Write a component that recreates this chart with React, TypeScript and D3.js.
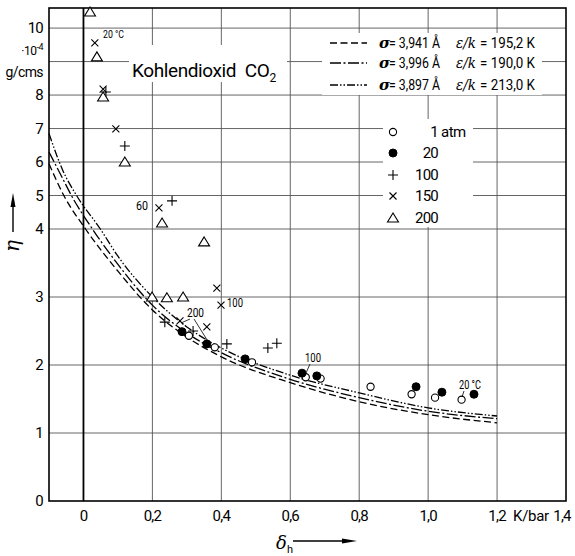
import React from "react";
import * as d3 from "d3";

// ---------- data ----------
const xTicks = [0, 0.2, 0.4, 0.6, 0.8, 1.0, 1.2];
const xTickLabels = ["0", "0,2", "0,4", "0,6", "0,8", "1,0", "1,2"];
const yTicks = [0, 1, 2, 3, 4, 5, 6, 7, 8, 10];
const yGrid = [1, 2, 3, 4, 5, 6, 7, 8, 9, 10];

// theory curves (delta_h, eta)
const curveA_213 = [
  [-0.1, 6.85], [-0.06, 5.75], [-0.02, 5.0], [0.049, 4.0], [0.1, 3.6], [0.2, 3.0],
  [0.3, 2.56], [0.4, 2.25], [0.6, 1.85], [0.8, 1.59], [1.0, 1.37], [1.2, 1.25],
];
const curveB_190 = [
  [-0.1, 6.3], [-0.06, 5.5], [-0.035, 5.0], [0.026, 4.0], [0.1, 3.48], [0.2, 2.88],
  [0.3, 2.47], [0.4, 2.18], [0.6, 1.79], [0.8, 1.52], [1.0, 1.32], [1.2, 1.21],
];
const curveC_195 = [
  [-0.1, 5.95], [-0.057, 5.0], [0.006, 4.0], [0.1, 3.38], [0.2, 2.81],
  [0.3, 2.41], [0.4, 2.12], [0.6, 1.74], [0.8, 1.46], [1.0, 1.27], [1.2, 1.15],
];

// measurements
const p1atm = [
  [0.306, 2.43], [0.381, 2.26], [0.489, 2.04], [0.645, 1.82], [0.688, 1.8],
  [0.833, 1.68], [0.952, 1.57], [1.02, 1.52], [1.097, 1.49],
];
const p20atm = [
  [0.286, 2.49], [0.358, 2.31], [0.469, 2.09], [0.634, 1.88], [0.677, 1.84],
  [0.965, 1.68], [1.04, 1.6], [1.133, 1.57],
];
const p100atm = [
  [0.065, 8.09], [0.12, 6.48], [0.257, 4.84], [0.236, 2.63], [0.318, 2.5],
  [0.416, 2.31], [0.535, 2.25], [0.561, 2.32],
];
const p150atm = [
  [0.033, 9.56], [0.057, 8.18], [0.094, 6.99], [0.219, 4.63], [0.387, 3.13],
  [0.399, 2.88], [0.358, 2.56], [0.28, 2.65],
];
const p200atm = [
  [0.019, 10.48], [0.039, 9.14], [0.057, 7.94], [0.12, 6.0], [0.228, 4.18],
  [0.35, 3.81], [0.199, 3.0], [0.242, 2.99], [0.289, 3.0],
];

const curveLegend = [
  { sigma: "3,941", eps: "195,2", dash: "7,3.5" },
  { sigma: "3,996", eps: "190,0", dash: "11,2.5,2,2.5" },
  { sigma: "3,897", eps: "213,0", dash: "8,2,1.5,2,1.5,2" },
];
const markerLegend = ["1", "20", "100", "150", "200"];

// ---------- layout ----------
const W = 575, H = 556;
const X = d3.scaleLinear().domain([-0.1, 1.4]).range([49, 566]);
const Y = d3.scaleLinear().domain([0, 4, 10.6]).range([501, 229, 8]);

const FONT = "Roboto, 'Liberation Sans', sans-serif";
const SERIF = "'DejaVu Serif', 'Liberation Serif', serif";

const line = d3.line<number[]>().x(d => X(d[0])).y(d => Y(d[1])).curve(d3.curveMonotoneX);

function Marker({ kind, cx, cy }: { kind: string; cx: number; cy: number }) {
  const s = { stroke: "#000", strokeWidth: 1.1 };
  if (kind === "open") return <circle cx={cx} cy={cy} r={3.6} fill="#fff" {...s} />;
  if (kind === "filled") return <circle cx={cx} cy={cy} r={4} fill="#000" stroke="#000" />;
  if (kind === "plus")
    return <path d={`M${cx - 5},${cy}H${cx + 5}M${cx},${cy - 5}V${cy + 5}`} fill="none" {...s} />;
  if (kind === "cross")
    return <path d={`M${cx - 3.5},${cy - 3.5}L${cx + 3.5},${cy + 3.5}M${cx - 3.5},${cy + 3.5}L${cx + 3.5},${cy - 3.5}`} fill="none" {...s} />;
  return <path d={`M${cx},${cy - 5}L${cx + 5.5},${cy + 4}L${cx - 5.5},${cy + 4}Z`} fill="#fff" {...s} />;
}

const sets: [number[][], string][] = [
  [p1atm, "open"], [p20atm, "filled"], [p100atm, "plus"], [p150atm, "cross"], [p200atm, "tri"],
];
const legendKinds = ["open", "filled", "plus", "cross", "tri"];

export default function App() {
  const x0 = X(-0.1), x1 = X(1.4), y0 = Y(0), y1 = Y(10.6);
  return (
    <svg width={W} height={H} style={{ position: "absolute", left: 0, top: 0, background: "#fff" }}
      fontFamily={FONT}>
      <rect x={0} y={0} width={W} height={H} fill="#fff" />
      {/* grid */}
      <g stroke="#555" strokeWidth={0.9}>
        {yGrid.map(v => <line key={"h" + v} x1={x0} x2={x1} y1={Y(v)} y2={Y(v)} />)}
        {xTicks.filter(v => v > 0).map(v => <line key={"v" + v} x1={X(v)} x2={X(v)} y1={y1} y2={y0} />)}
      </g>
      <line x1={X(0)} x2={X(0)} y1={y1} y2={y0} stroke="#000" strokeWidth={1.8} />

      {/* white boxes */}
      <rect x={129} y={45} width={158} height={37} fill="#fff" />
      <rect x={322} y={33} width={220} height={62} fill="#fff" />
      <rect x={383} y={119} width={90} height={108} fill="#fff" />

      {/* frame */}
      <rect x={x0} y={y1} width={x1 - x0} height={y0 - y1} fill="none" stroke="#000" strokeWidth={1.6} />

      {/* theory curves */}
      <g fill="none" stroke="#000" strokeWidth={1.3}>
        <path d={line(curveA_213) || ""} strokeDasharray={curveLegend[2].dash} />
        <path d={line(curveB_190) || ""} strokeDasharray={curveLegend[1].dash} />
        <path d={line(curveC_195) || ""} strokeDasharray={curveLegend[0].dash} />
      </g>

      {/* measurements */}
      {sets.map(([pts, kind]) =>
        pts.map((p, i) => <Marker key={kind + i} kind={kind} cx={X(p[0])} cy={Y(p[1])} />)
      )}

      {/* annotations */}
      <g fontSize={10} fill="#000">
        <text x={103} y={38} textLength={21} lengthAdjust="spacingAndGlyphs">20 °C</text>
        <text x={136} y={210} fontSize={12} textLength={12} lengthAdjust="spacingAndGlyphs">60</text>
        <text x={187} y={317} fontSize={12} textLength={17} lengthAdjust="spacingAndGlyphs">200</text>
        <text x={227} y={307} fontSize={12} textLength={16} lengthAdjust="spacingAndGlyphs">100</text>
        <text x={305} y={362} fontSize={12} textLength={16} lengthAdjust="spacingAndGlyphs">100</text>
        <text x={459} y={389} fontSize={12} textLength={22} lengthAdjust="spacingAndGlyphs">20 °C</text>
      </g>
      <g stroke="#000" strokeWidth={0.8} fill="none">
        <path d="M190,319L181,323M194,319L209,343" />
        <path d="M310,364L306,373" />
        <path d="M464,391L462,397" />
      </g>

      {/* title */}
      <text x={132} y={77} fontSize={19} fill="#000" letterSpacing={-0.4}>
        Kohlendioxid{"\u00a0\u00a0"}CO<tspan fontSize={12} dy={5}>2</tspan>
      </text>

      {/* curve legend */}
      {curveLegend.map((c, i) => {
        const yy = [43, 63, 85][i];
        return (
          <g key={i} fill="#000">
            <line x1={330} x2={367} y1={yy} y2={yy} stroke="#000" strokeWidth={1.3} strokeDasharray={c.dash} />
            <text x={379} y={yy + 5} fontSize={15} fontStyle="italic" fontWeight="bold" fontFamily={SERIF}>σ</text>
            <text x={389} y={yy + 5} fontSize={15} textLength={51} lengthAdjust="spacingAndGlyphs">{`= ${c.sigma} Å`}</text>
            <text x={456} y={yy + 5} fontSize={15} fontStyle="italic" fontFamily={SERIF}
              textLength={20} lengthAdjust="spacingAndGlyphs">ε/k</text>
            <text x={480} y={yy + 5} fontSize={15} textLength={55} lengthAdjust="spacingAndGlyphs">{`= ${c.eps} K`}</text>
          </g>
        );
      })}

      {/* marker legend */}
      {markerLegend.map((m, i) => {
        const yy = [132, 153, 175, 196, 218][i];
        return (
          <g key={m} fill="#000">
            <Marker kind={legendKinds[i]} cx={393} cy={yy} />
            <text x={438} y={yy + 5} fontSize={15} textAnchor="end" letterSpacing={-0.8}>{m}</text>
            {i === 0 && <text x={441} y={yy + 5} fontSize={15} letterSpacing={-0.5}>atm</text>}
          </g>
        );
      })}

      {/* y axis labels */}
      <g fontSize={15} textAnchor="end" fill="#000" letterSpacing={-0.8}>
        {yTicks.map(v => <text key={v} x={43} y={Y(v) + 5}>{v}</text>)}
        <text x={43} y={55} fontSize={12} letterSpacing={-0.5}>·10<tspan fontSize={9} dy={-5}>-4</tspan></text>
        <text x={43} y={77} fontSize={14} letterSpacing={-0.6}>g/cms</text>
      </g>
      {/* x axis labels */}
      <g fontSize={15} textAnchor="middle" fill="#000" letterSpacing={-0.8}>
        {xTicks.map((v, i) => <text key={v} x={X(v)} y={521}>{xTickLabels[i]}</text>)}
        <text x={531} y={521} letterSpacing={-0.3}>K/bar</text>
        <text x={562} y={521}>1,4</text>
      </g>

      {/* axis titles */}
      <text x={0} y={0} fontSize={20} fontStyle="italic" fontFamily={SERIF}
        transform="translate(19,246) rotate(-90)" textAnchor="middle">η</text>
      <line x1={13} x2={13} y1={232} y2={204} stroke="#000" strokeWidth={1.4} />
      <path d="M13,193L10.5,207L15.5,207Z" fill="#000" />

      <text x={276} y={549} fontSize={18} fontStyle="italic" fontFamily={SERIF}>δ</text>
      <text x={287} y={553} fontSize={11}>h</text>
      <line x1={293} x2={345} y1={541} y2={541} stroke="#000" strokeWidth={1.4} />
      <path d="M357,541L342,538.5L342,543.5Z" fill="#000" />
    </svg>
  );
}
